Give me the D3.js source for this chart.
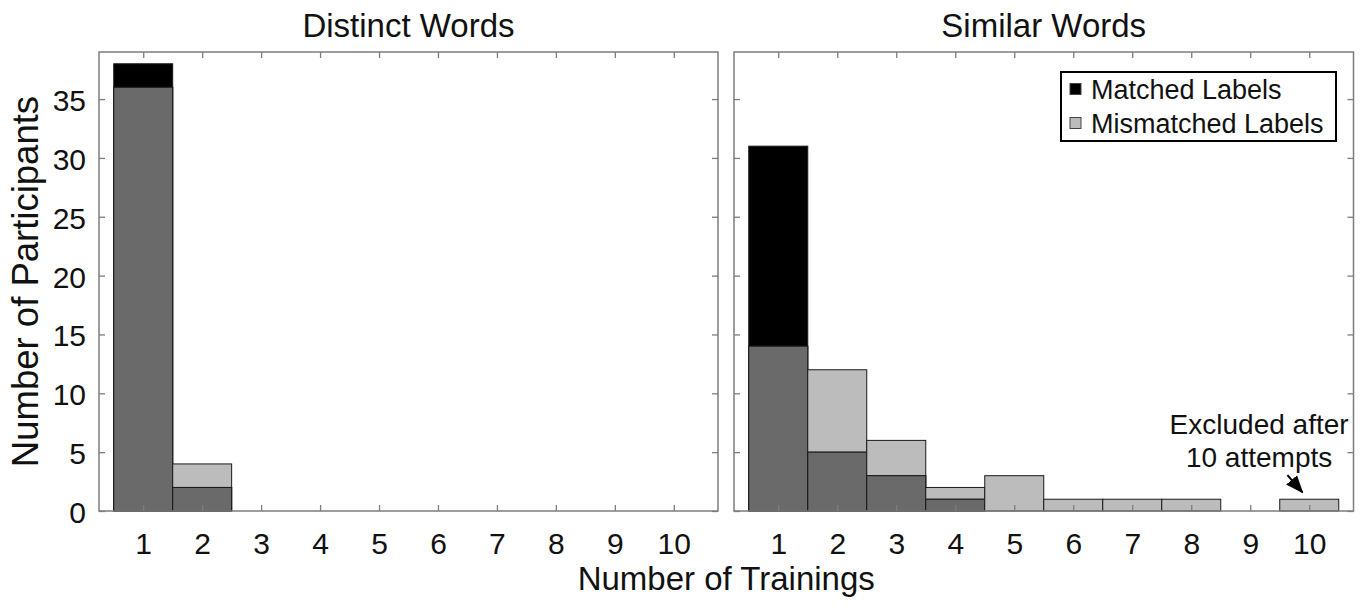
<!DOCTYPE html>
<html>
<head>
<meta charset="utf-8">
<script src="https://cdn.jsdelivr.net/npm/d3@7"></script>
<style>
  html, body { margin: 0; padding: 0; background: #fff; }
  svg { display: block; font-family: "Liberation Sans", Arial, Helvetica, sans-serif; }
</style>
</head>
<body>
<svg id="chart" width="1366" height="608"></svg>
<script>
// ---- data ----
const bins = [1, 2, 3, 4, 5, 6, 7, 8, 9, 10];
const distinctMatched    = [38, 2, 0, 0, 0, 0, 0, 0, 0, 0];
const distinctMismatched = [36, 4, 0, 0, 0, 0, 0, 0, 0, 0];
const similarMatched     = [31, 5, 3, 1, 0, 0, 0, 0, 0, 0];
const similarMismatched  = [14, 12, 6, 2, 3, 1, 1, 1, 0, 1];
const yTicks = [0, 5, 10, 15, 20, 25, 30, 35];
const panelTitles = ["Distinct Words", "Similar Words"];
const legendLabels = ["Matched Labels", "Mismatched Labels"];
const annotationLines = ["Excluded after", "10 attempts"];
const xLabel = "Number of Trainings";
const yLabel = "Number of Participants";

// ---- styles ----
const C_MATCH = "#000000";
const C_MISMATCH = "#bcbcbc";
const C_OVERLAP = "#6a6a6a";
const C_FRAME = "#7d7d7d";
const FONT = "Liberation Sans, Arial, sans-serif";

const svg = d3.select("#chart");
const plotTop = 52, plotBottom = 511;
const panels = [
  { x0: 99, x1: 718, title: panelTitles[0], matched: distinctMatched, mismatched: distinctMismatched },
  { x0: 734, x1: 1353.5, title: panelTitles[1], matched: similarMatched, mismatched: similarMismatched }
];

const y = d3.scaleLinear().domain([0, 39]).range([plotBottom, plotTop]);

panels.forEach((p, pi) => {
  const x = d3.scaleLinear().domain([0.25, 10.75]).range([p.x0, p.x1]);
  const g = svg.append("g");

  // bars
  const data = bins.map((b, i) => ({ b, m: p.matched[i], mm: p.mismatched[i] }));
  const bw = x(1.5) - x(0.5);
  data.forEach(d => {
    const layers = [];
    if (d.m > 0) layers.push({ v: d.m, c: C_MATCH });
    if (d.mm > 0) layers.push({ v: d.mm, c: C_MISMATCH });
    const ov = Math.min(d.m, d.mm);
    if (ov > 0) layers.push({ v: ov, c: C_OVERLAP });
    layers.sort((a, b) => b.v - a.v);
    layers.forEach(l => {
      g.append("rect")
        .attr("x", x(d.b - 0.5))
        .attr("width", bw)
        .attr("y", y(l.v))
        .attr("height", y(0) - y(l.v))
        .attr("fill", l.c)
        .attr("stroke", "#1a1a1a")
        .attr("stroke-width", 1);
    });
  });

  // ticks (inward) via d3 axes
  const tickStyle = sel => {
    sel.select(".domain").remove();
    sel.selectAll(".tick line").attr("stroke", C_FRAME).attr("stroke-width", 1.3);
  };
  const xb = g.append("g").attr("transform", `translate(0,${plotBottom})`)
    .call(d3.axisBottom(x).tickValues(bins).tickSizeInner(-6).tickSizeOuter(0).tickFormat(d3.format("d")));
  tickStyle(xb);
  xb.selectAll(".tick text").attr("y", 22).attr("font-size", 30).attr("fill", "#111")
    .attr("font-family", FONT);
  const xt = g.append("g").attr("transform", `translate(0,${plotTop})`)
    .call(d3.axisTop(x).tickValues(bins).tickSizeInner(-6).tickSizeOuter(0).tickFormat(""));
  tickStyle(xt);

  const yl = g.append("g").attr("transform", `translate(${p.x0},0)`)
    .call(d3.axisLeft(y).tickValues(yTicks).tickSizeInner(-6).tickSizeOuter(0)
      .tickFormat(pi === 0 ? d3.format("d") : ""));
  tickStyle(yl);
  yl.selectAll(".tick text").attr("x", -13).attr("dy", "0.38em").attr("font-size", 30).attr("fill", "#111")
    .attr("font-family", FONT);
  const yr = g.append("g").attr("transform", `translate(${p.x1},0)`)
    .call(d3.axisRight(y).tickValues(yTicks).tickSizeInner(-6).tickSizeOuter(0).tickFormat(""));
  tickStyle(yr);

  // frame
  g.append("rect")
    .attr("x", p.x0).attr("y", plotTop)
    .attr("width", p.x1 - p.x0).attr("height", plotBottom - plotTop)
    .attr("fill", "none").attr("stroke", C_FRAME).attr("stroke-width", 1.5);

  // title
  g.append("text")
    .attr("x", (p.x0 + p.x1) / 2).attr("y", 37)
    .attr("text-anchor", "middle").attr("font-size", 33).attr("fill", "#111")
    .text(p.title);

  if (pi === 1) {
    // legend
    const lg = g.append("g");
    lg.append("rect").attr("x", 1061).attr("y", 72).attr("width", 275).attr("height", 69)
      .attr("fill", "#fff").attr("stroke", "#000").attr("stroke-width", 2);
    const legendColors = [C_MATCH, C_MISMATCH];
    legendLabels.forEach((lab, i) => {
      const cy = 89 + i * 34;
      lg.append("rect").attr("x", 1070).attr("y", cy - 5.5).attr("width", 11).attr("height", 11)
        .attr("fill", legendColors[i]).attr("stroke", "#444").attr("stroke-width", 1);
      lg.append("text").attr("x", 1091).attr("y", cy + 9.5).attr("font-size", 27).attr("fill", "#111")
        .text(lab);
    });

    // annotation
    annotationLines.forEach((t, i) => {
      g.append("text")
        .attr("x", x(9.15)).attr("y", y(6.55) + i * 33)
        .attr("text-anchor", "middle").attr("font-size", 28).attr("fill", "#111")
        .text(t);
    });
    svg.append("defs").append("marker")
      .attr("id", "arrow").attr("viewBox", "0 0 10 10").attr("refX", 9).attr("refY", 5)
      .attr("markerWidth", 9).attr("markerHeight", 9).attr("orient", "auto")
      .append("path").attr("d", "M0,1 L10,5 L0,9 Z").attr("fill", "#000");
    g.append("line")
      .attr("x1", x(9.63)).attr("y1", y(3.05))
      .attr("x2", x(9.88)).attr("y2", y(1.6))
      .attr("stroke", "#000").attr("stroke-width", 2)
      .attr("marker-end", "url(#arrow)");
  }
});

// axis labels
svg.append("text")
  .attr("x", (99 + 1353.5) / 2).attr("y", 590)
  .attr("text-anchor", "middle").attr("font-size", 33).attr("fill", "#111")
  .text(xLabel);
svg.append("text")
  .attr("transform", `translate(38,${(plotTop + plotBottom) / 2}) rotate(-90)`)
  .attr("text-anchor", "middle").attr("font-size", 36.5).attr("fill", "#111")
  .text(yLabel);
</script>
</body>
</html>
